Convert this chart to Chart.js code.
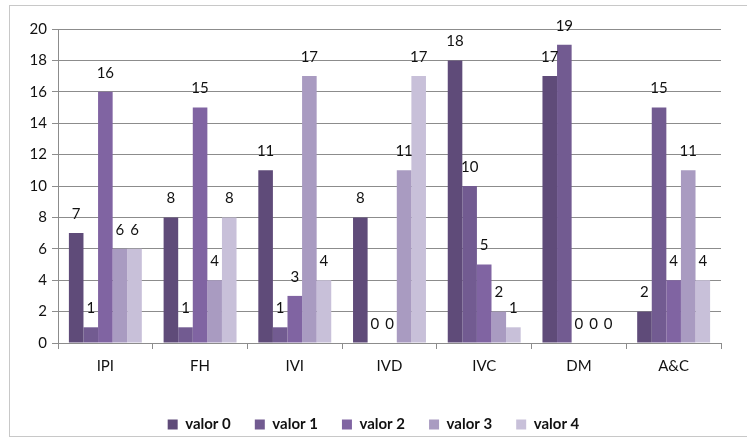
<!DOCTYPE html>
<html>
<head>
<meta charset="utf-8">
<script src="https://cdn.jsdelivr.net/npm/chart.js@4.4.0/dist/chart.umd.min.js"></script>
<style>
  html, body { margin: 0; padding: 0; background: #fff; }
  #wrap { position: relative; width: 747px; height: 443px; }
  #marco { position: absolute; left: 9px; top: 5px; width: 760px; height: 430px; border: 1px solid #c8c8c8; }
  #chart-valores { position: absolute; left: 0; top: 0; }
</style>
</head>
<body>
<div id="wrap">
  <div id="marco"></div>
  <canvas id="chart-valores" width="747" height="443"></canvas>
</div>
<script>
// ------------- DATOS
const categorias = ['IPI', 'FH', 'IVI', 'IVD', 'IVC', 'DM', 'A&C'];
const valor0 = [7, 8, 11, 8, 18, 17, 2];
const valor1 = [1, 1, 1, 0, 10, 19, 15];
const valor2 = [16, 15, 3, 0, 5, 0, 4];
const valor3 = [6, 4, 17, 11, 2, 0, 11];
const valor4 = [6, 8, 4, 17, 1, 0, 4];
const yTicks = [0, 2, 4, 6, 8, 10, 12, 14, 16, 18, 20];

const series = [
  { label: 'valor 0', data: valor0, color: '#5f4b79' },
  { label: 'valor 1', data: valor1, color: '#725b91' },
  { label: 'valor 2', data: valor2, color: '#8064a2' },
  { label: 'valor 3', data: valor3, color: '#a99bc1' },
  { label: 'valor 4', data: valor4, color: '#c8c0d9' }
];

const fuente = "Lato, 'Open Sans', sans-serif";

// ---------- ETIQUETAS ENCIMA DE LAS BARRAS
const etiquetasPlugin = {
  id: 'etiquetas',
  afterLayout(chart) {
    // centrar la leyenda en todo el lienzo, no solo en el area del grafico
    chart.legend.left += 13;
    chart.legend.right += 13;
  },
  afterDatasetsDraw(chart) {
    const ctx = chart.ctx;
    ctx.save();
    ctx.font = '15px ' + fuente;
    ctx.fillStyle = '#111';
    ctx.textAlign = 'center';
    ctx.textBaseline = 'middle';
    chart.data.datasets.forEach(function (ds, i) {
      chart.getDatasetMeta(i).data.forEach(function (bar, j) {
        ctx.fillText(String(ds.data[j]), bar.x, bar.y - 19);
      });
    });
    ctx.restore();
  }
};

const ctx = document.getElementById('chart-valores').getContext('2d');
const myChartValores = new Chart(ctx, {
  type: 'bar',
  data: {
    labels: categorias,
    datasets: series.map(function (s) {
      return {
        label: s.label,
        data: s.data,
        backgroundColor: s.color,
        borderWidth: 0,
        categoryPercentage: 0.77,
        barPercentage: 1
      };
    })
  },
  options: {
    responsive: false,
    animation: false,
    layout: { padding: { top: 29, right: 26, bottom: 1, left: 0 } },
    plugins: {
      legend: {
        position: 'bottom',
        labels: {
          boxWidth: 10,
          boxHeight: 10,
          padding: 24,
          color: '#111',
          font: { family: fuente, size: 15, weight: 'bold' }
        }
      },
      tooltip: { enabled: false }
    },
    scales: {
      y: {
        min: 0,
        max: 20,
        afterBuildTicks: function (scale) {
          scale.ticks = yTicks.map(function (v) { return { value: v }; });
        },
        afterFit: function (scale) { scale.width = 58; },
        grid: { color: '#8c8c8c', tickLength: 6, lineWidth: 1 },
        border: { color: '#8c8c8c' },
        ticks: { color: '#111', padding: 5, font: { family: fuente, size: 15 } }
      },
      x: {
        afterFit: function (scale) { scale.height = 50; },
        grid: { drawOnChartArea: false, color: '#8c8c8c', tickLength: 6 },
        border: { color: '#8c8c8c' },
        ticks: { color: '#111', padding: 8, font: { family: fuente, size: 15 } }
      }
    }
  },
  plugins: [etiquetasPlugin]
});
</script>
</body>
</html>
